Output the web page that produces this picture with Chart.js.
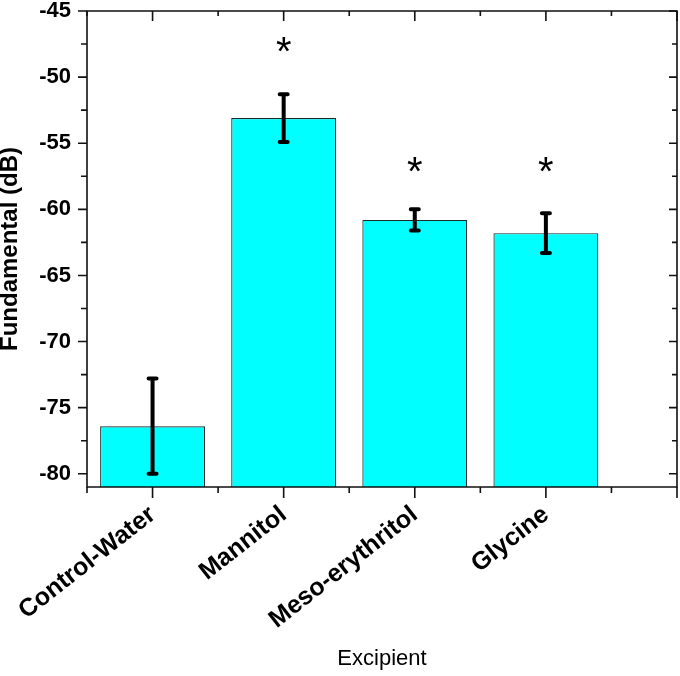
<!DOCTYPE html>
<html>
<head>
<meta charset="utf-8">
<script src="https://cdn.jsdelivr.net/npm/chart.js@4/dist/chart.umd.min.js"></script>
<style>
  html, body { margin: 0; background: #fff; }
  #wrap { width: 680px; height: 676px; }
</style>
</head>
<body>
<div id="wrap"><canvas id="bar"></canvas></div>
<script>
const categories = ['Control-Water', 'Mannitol', 'Meso-erythritol', 'Glycine'];
const means = [-76.4, -53.1, -60.8, -61.8];
const errors = [3.6, 1.8, 0.8, 1.5];
const starLevels = [null, -47.6, -56.7, -56.7];
const yTicks = [-80, -75, -70, -65, -60, -55, -50, -45];
const yMin = -81, yMax = -45;
const xMin = -0.5, xMax = 4;

Chart.defaults.font.family = '"Liberation Sans", Arial, sans-serif';
Chart.defaults.color = '#000';

// error bars, asterisks, frame and tick marks
const decor = {
  id: 'decor',
  afterDatasetsDraw(chart) {
    const ctx = chart.ctx, xs = chart.scales.x, ys = chart.scales.y;
    ctx.save();
    ctx.strokeStyle = '#000';
    ctx.lineWidth = 4;
    ctx.lineCap = 'round';
    means.forEach((m, i) => {
      const x = xs.getPixelForValue(i);
      const top = ys.getPixelForValue(m + errors[i]);
      const bot = ys.getPixelForValue(m - errors[i]);
      ctx.beginPath();
      ctx.moveTo(x, top); ctx.lineTo(x, bot);
      ctx.moveTo(x - 4, top); ctx.lineTo(x + 4, top);
      ctx.moveTo(x - 4, bot); ctx.lineTo(x + 4, bot);
      ctx.stroke();
    });
    ctx.fillStyle = '#000';
    ctx.font = '40px "Liberation Sans", Arial, sans-serif';
    ctx.textAlign = 'center';
    ctx.textBaseline = 'alphabetic';
    starLevels.forEach((s, i) => {
      if (s === null) return;
      ctx.fillText('*', xs.getPixelForValue(i), ys.getPixelForValue(s) + 40 * 0.48);
    });
    ctx.restore();
  },
  afterDraw(chart) {
    const ctx = chart.ctx, xs = chart.scales.x, ys = chart.scales.y;
    const { left, right, top, bottom } = chart.chartArea;
    ctx.save();
    ctx.strokeStyle = '#111';
    ctx.lineWidth = 1.6;
    ctx.beginPath();
    ctx.rect(left, top, right - left, bottom - top);
    ctx.stroke();
    ctx.beginPath();
    // y ticks: outward on left, inward on right
    yTicks.forEach((v, i) => {
      const y = ys.getPixelForValue(v);
      ctx.moveTo(left - 9, y); ctx.lineTo(left, y);
      ctx.moveTo(right, y); ctx.lineTo(right - 8, y);
      if (i > 0) {
        const ym = ys.getPixelForValue((v + yTicks[i - 1]) / 2);
        ctx.moveTo(left - 6, ym); ctx.lineTo(left, ym);
        ctx.moveTo(right, ym); ctx.lineTo(right - 5, ym);
      }
    });
    // x ticks: outward on bottom, inward on top
    for (let v = xMin; v <= xMax; v += 0.5) {
      const x = xs.getPixelForValue(v);
      const major = Number.isInteger(v);
      ctx.moveTo(x, bottom); ctx.lineTo(x, bottom + (major ? 11 : 6));
      ctx.moveTo(x, top); ctx.lineTo(x, top + (major ? 10 : 5));
    }
    ctx.stroke();
    ctx.restore();
  }
};

new Chart(document.getElementById('bar'), {
  type: 'bar',
  data: {
    datasets: [{
      data: means.map((m, i) => ({ x: i, y: m })),
      base: yMin,
      backgroundColor: '#00FFFF',
      borderColor: '#1a2a2a',
      borderWidth: 1.2,
      categoryPercentage: 0.8,
      barPercentage: 1.0
    }]
  },
  options: {
    responsive: true,
    maintainAspectRatio: false,
    animation: false,
    layout: { padding: { top: 0, right: 3 } },
    plugins: { legend: { display: false }, tooltip: { enabled: false } },
    scales: {
      x: {
        type: 'linear',
        offset: false,
        min: xMin,
        max: xMax,
        afterBuildTicks: s => { s.ticks = categories.map((c, i) => ({ value: i })); },
        afterFit: s => { s.height = 189; },
        grid: { display: false, drawTicks: true, tickLength: 13, offset: false },
        border: { display: false },
        ticks: {
          callback: v => categories[v],
          autoSkip: false,
          minRotation: 38,
          maxRotation: 38,
          padding: 0,
          font: { size: 25, weight: 'bold' }
        },
        title: {
          display: true,
          text: 'Excipient',
          font: { size: 22 },
          padding: { top: 0, bottom: 4 }
        }
      },
      y: {
        min: yMin,
        max: yMax,
        afterBuildTicks: s => { s.ticks = yTicks.map(v => ({ value: v })); },
        afterFit: s => { s.width = 87; },
        grid: { display: false, drawTicks: true, tickLength: 16 },
        border: { display: false },
        ticks: { padding: 0, font: { size: 22, weight: 'bold', lineHeight: 1 } },
        title: {
          display: true,
          text: 'Fundamental (dB)',
          font: { size: 24, weight: 'bold', lineHeight: 0.9 },
          padding: 0
        }
      }
    }
  },
  plugins: [decor]
});
</script>
</body>
</html>
